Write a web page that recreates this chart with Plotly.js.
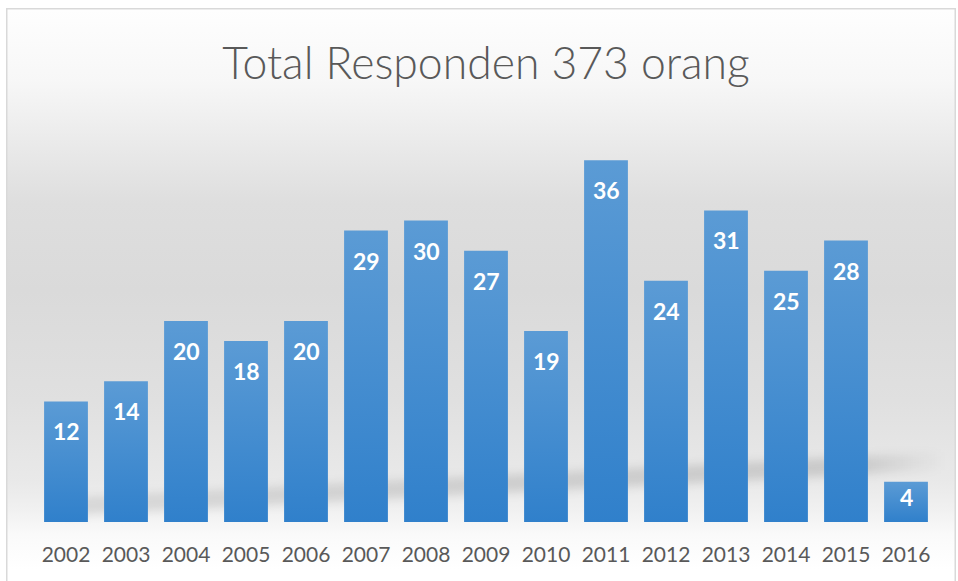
<!DOCTYPE html>
<html>
<head>
<meta charset="utf-8">
<script src="https://cdn.plot.ly/plotly-3.0.1.min.js"></script>
<style>
  html, body { margin: 0; padding: 0; background: #ffffff; }
  #wrap { position: relative; width: 958px; height: 581px; overflow: hidden; background: #ffffff; }
  #bgframe { position: absolute; left: 0; top: 0; width: 958px; height: 581px; }
  #chart { position: absolute; left: 0; top: 0; width: 958px; height: 581px; }
</style>
</head>
<body>
<div id="wrap">
  <svg id="bgframe" width="958" height="581" xmlns="http://www.w3.org/2000/svg">
    <defs>
      <linearGradient id="bgGrad" x1="0" y1="0" x2="0" y2="581" gradientUnits="userSpaceOnUse">
        <stop offset="0" stop-color="#ffffff"/>
        <stop offset="0.14" stop-color="#f7f7f7"/>
        <stop offset="0.23" stop-color="#ececec"/>
        <stop offset="0.35" stop-color="#dedede"/>
        <stop offset="0.5" stop-color="#dadada"/>
        <stop offset="0.69" stop-color="#e0e0e0"/>
        <stop offset="0.83" stop-color="#e9e9e9"/>
        <stop offset="0.88" stop-color="#f1f1f1"/>
        <stop offset="0.92" stop-color="#fafafa"/>
        <stop offset="0.98" stop-color="#ffffff"/>
      </linearGradient>
      <linearGradient id="shadowGrad" x1="60" y1="0" x2="944" y2="0" gradientUnits="userSpaceOnUse">
        <stop offset="0" stop-color="#000000" stop-opacity="0.10"/>
        <stop offset="0.9" stop-color="#000000" stop-opacity="0.13"/>
        <stop offset="1" stop-color="#000000" stop-opacity="0"/>
      </linearGradient>
      <filter id="blur" x="-10%" y="-100%" width="120%" height="300%">
        <feGaussianBlur stdDeviation="5"/>
      </filter>
      <clipPath id="plotClip"><rect x="36" y="120" width="910" height="404"/></clipPath>
    </defs>
    <rect x="0" y="0" width="958" height="581" fill="#ffffff"/>
    <rect x="6.75" y="8.75" width="948.5" height="600" fill="url(#bgGrad)" stroke="#d9d9d9" stroke-width="1.5"/>
    <g clip-path="url(#plotClip)">
      <polygon points="60,498 944,452 944,470 60,516" fill="url(#shadowGrad)" filter="url(#blur)"/>
    </g>
  </svg>
  <div id="chart"></div>
</div>
<script>
const categories = ['2002','2003','2004','2005','2006','2007','2008','2009','2010','2011','2012','2013','2014','2015','2016'];
const values = [12, 14, 20, 18, 20, 29, 30, 27, 19, 36, 24, 31, 25, 28, 4];
const chartTitle = 'Total Responden 373 orang';

const fontFamily = 'Lato, "Open Sans", "Noto Sans", sans-serif';

const annotations = categories.map((c, i) => ({
  x: i, y: values[i], xref: 'x', yref: 'y',
  text: String(values[i]), showarrow: false,
  yanchor: 'middle', yshift: values[i] < 6 ? -15 : -30,
  font: { family: fontFamily, size: 23, color: '#ffffff', weight: 700 }
}));

const trace = {
  type: 'bar',
  x: categories,
  y: values,
  marker: { color: '#4a8fd2', line: { width: 0 } },
  hoverinfo: 'none'
};

const layout = {
  width: 958, height: 581,
  paper_bgcolor: 'rgba(0,0,0,0)',
  plot_bgcolor: 'rgba(0,0,0,0)',
  margin: { l: 36, r: 22, t: 120, b: 59 },
  bargap: 0.27,
  showlegend: false,
  title: {
    text: chartTitle,
    x: 486 / 958, xanchor: 'center', xref: 'container',
    y: 1 - 63 / 581, yanchor: 'middle', yref: 'container',
    font: { family: fontFamily, size: 44.5, color: '#595959', weight: 300 }
  },
  xaxis: {
    type: 'category',
    categoryorder: 'array', categoryarray: categories,
    range: [-0.5, categories.length - 0.5],
    showgrid: false, zeroline: false, showline: false,
    ticks: '', ticklabelstandoff: 18,
    tickfont: { family: fontFamily, size: 21, color: '#595959' }
  },
  yaxis: {
    range: [0, 40],
    visible: false, showgrid: false, zeroline: false
  },
  annotations: annotations
};

Plotly.newPlot('chart', [trace], layout, { staticPlot: true, displayModeBar: false }).then(gd => {
  const svg = gd.querySelector('.main-svg');
  let defs = svg.querySelector('defs');
  const ns = 'http://www.w3.org/2000/svg';
  if (!defs) { defs = document.createElementNS(ns, 'defs'); svg.insertBefore(defs, svg.firstChild); }
  const grad = document.createElementNS(ns, 'linearGradient');
  grad.setAttribute('id', 'barGrad');
  grad.setAttribute('x1', '0'); grad.setAttribute('y1', '0');
  grad.setAttribute('x2', '0'); grad.setAttribute('y2', '1');
  [['0', '#5b9bd5'], ['1', '#3080cb']].forEach(([o, c]) => {
    const s = document.createElementNS(ns, 'stop');
    s.setAttribute('offset', o); s.setAttribute('stop-color', c);
    grad.appendChild(s);
  });
  defs.appendChild(grad);
  gd.querySelectorAll('.bars .point path').forEach(p => { p.style.fill = 'url(#barGrad)'; });
});
</script>
</body>
</html>
